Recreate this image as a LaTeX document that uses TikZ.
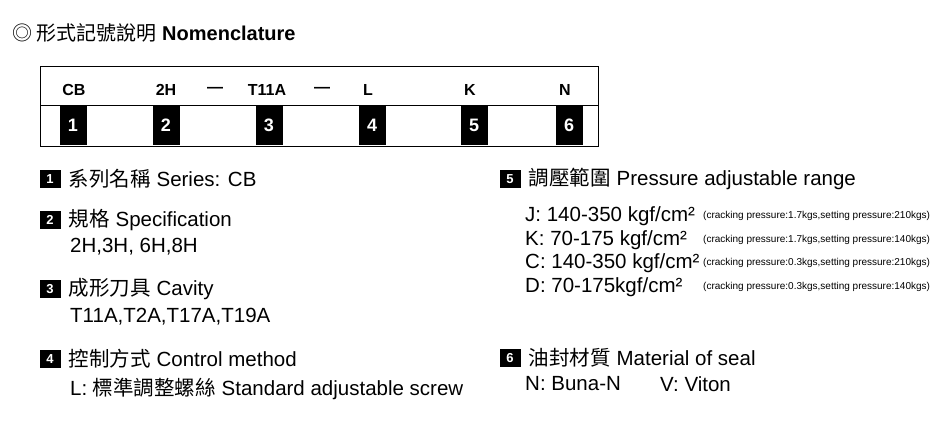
\documentclass[tikz,border=0pt]{standalone}
\usepackage{fontspec}
\setmainfont{Liberation Sans}
\newfontfamily\cjk{Noto Sans CJK TC}
\usetikzlibrary{positioning}
\begin{document}
\begin{tikzpicture}[x=1pt,y=-1pt]
    \tikzset{code/.style={font=\fontsize{16}{16}\selectfont\bfseries},
             digit/.style={fill=black,text=white,minimum width=27pt,minimum height=40pt,inner sep=0pt,font=\fontsize{18}{18}\selectfont\bfseries},
             badge/.style={fill=black,text=white,minimum width=21pt,minimum height=18pt,inner sep=0pt,font=\fontsize{13}{13}\selectfont\bfseries},
             item/.style={anchor=west,inner sep=0pt,font=\fontsize{20.5}{20.5}\selectfont},
             note/.style={anchor=west,inner sep=0pt,font=\fontsize{10}{10}\selectfont}}
    \useasboundingbox (0,0) rectangle (941,447);
    % title
    \node [anchor=west,inner sep=0pt,font=\fontsize{20}{20}\selectfont] (title) at (12,33) {{\cjk ◎ 形式記號說明}\ \textbf{Nomenclature}};
    % code box
    \node [draw,line width=1pt,minimum width=558pt,minimum height=80pt,inner sep=0pt,anchor=north west] (frame) at (40,66) {};
    \draw [line width=0.8pt] (40,105) -- (598,105);
    \node [code] (cb) at (74,90) {CB};
    \node [code] (h2) at (166,90) {2H};
    \node [code] (d1) at (215,90) {---};
    \node [code] (t11a) at (267,90) {T11A};
    \node [code] (d2) at (322,90) {---};
    \node [code] (l) at (368,90) {L};
    \node [code] (k) at (470,90) {K};
    \node [code] (n) at (565,90) {N};
    \foreach \i/\x in {1/73,2/166,3/269,4/372,5/474,6/569}
        \node [digit] (d\i) at (\x,125) {\i};
    % items
    \node [badge] (b1) at (50,179) {1};
    \node [item, right=8pt of b1] (s1) {{\cjk 系列名稱} Series: CB};
    \node [badge] (b2) at (50,220) {2};
    \node [item, right=8pt of b2] (s2) {{\cjk 規格} Specification};
    \node [item] (s2a) at (70,247) {2H,3H, 6H,8H};
    \node [badge] (b3) at (50,289) {3};
    \node [item, right=8pt of b3] (s3) {{\cjk 成形刀具} Cavity};
    \node [item] (s3a) at (70,317) {T11A,T2A,T17A,T19A};
    \node [badge] (b4) at (50,359) {4};
    \node [item, right=8pt of b4] (s4) {{\cjk 控制方式} Control method};
    \node [item] (s4a) at (70,389) {L: {\cjk 標準調整螺絲} Standard adjustable screw};
    \node [badge] (b5) at (510,179) {5};
    \node [item, right=8pt of b5] (s5) {{\cjk 調壓範圍} Pressure adjustable range};
    \node [item] (j) at (525,216) {J: 140-350 kgf/cm²};
    \node [note] (jn) at (703,216) {(cracking pressure:1.7kgs,setting pressure:210kgs)};
    \node [item] (kk) at (525,240) {K: 70-175 kgf/cm²};
    \node [note] (kn) at (703,240) {(cracking pressure:1.7kgs,setting pressure:140kgs)};
    \node [item] (c) at (525,263) {C: 140-350 kgf/cm²};
    \node [note] (cn) at (703,263) {(cracking pressure:0.3kgs,setting pressure:210kgs)};
    \node [item] (dd) at (525,287) {D: 70-175kgf/cm²};
    \node [note] (dn) at (703,287) {(cracking pressure:0.3kgs,setting pressure:140kgs)};
    \node [badge] (b6) at (510,358) {6};
    \node [item, right=8pt of b6] (s6) {{\cjk 油封材質} Material of seal};
    \node [item] (bn) at (525,384) {N: Buna-N};
    \node [item] (vt) at (660,384) {V: Viton};
\end{tikzpicture}
\end{document}
